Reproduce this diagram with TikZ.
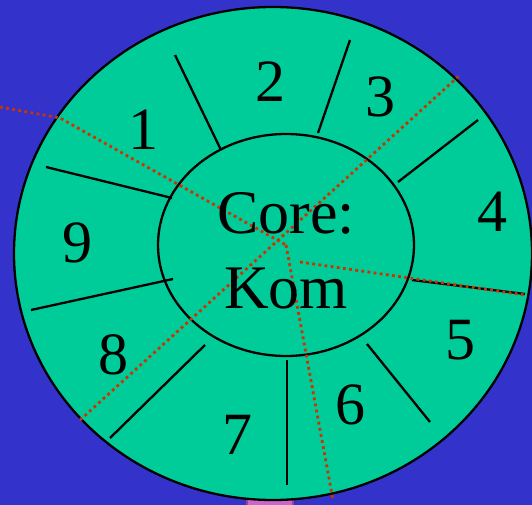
\documentclass[tikz,border=0pt]{standalone}
\usepackage{fontspec}
\setmainfont{Liberation Serif}
\begin{document}
\begin{tikzpicture}[x=1pt,y=-1pt,
  divider/.style={line width=2.3pt,black},
  redline/.style={line width=2.8pt,color={rgb,255:red,204;green,51;blue,0},dash pattern=on 2.8pt off 3.4pt},
  num/.style={font=\fontsize{60}{60}\selectfont,inner sep=0pt}]
\definecolor{bgblue}{RGB}{51,51,204}
\definecolor{seagreen}{RGB}{0,204,153}
\definecolor{pinkbox}{RGB}{204,102,204}
\fill[bgblue] (0,0) rectangle (532,505);
\useasboundingbox (0,0) rectangle (532,505);
\draw[pinkbox!70!black,fill=pinkbox,line width=1.5pt] (247,499) rectangle (293,508);
\draw[fill=seagreen,line width=2.3pt] (273,253.5) ellipse [x radius=259,y radius=246.5];
% dividers
\coordinate (a1) at (175,55);  \coordinate (b1) at (221,150);
\coordinate (a2) at (350,40);  \coordinate (b2) at (318,133);
\coordinate (a3) at (478,120); \coordinate (b3) at (398,182);
\coordinate (a4) at (525,294); \coordinate (b4) at (412,280);
\coordinate (a5) at (430,422); \coordinate (b5) at (367,344);
\coordinate (a6) at (287,485); \coordinate (b6) at (287,360);
\coordinate (a7) at (110,438); \coordinate (b7) at (205,345);
\coordinate (a8) at (31,310);  \coordinate (b8) at (173,279);
\coordinate (a9) at (46,167);  \coordinate (b9) at (172,198);
\foreach \i in {1,...,9} \draw[divider] (a\i) -- (b\i);
\draw[line width=2.3pt] (286,245) ellipse [x radius=128,y radius=111];
% red dotted lines
\coordinate (c) at (286,245);
\coordinate (r0) at (0,107);
\coordinate (r1) at (60,118);
\coordinate (r2) at (80,420);
\coordinate (r3) at (460,75);
\coordinate (r4) at (333,500);
\coordinate (r5) at (300,262);
\coordinate (r6) at (525,295);
\draw[redline] (r0) -- (r1) -- (c);
\draw[redline] (r2) -- (r3);
\draw[redline] (c) -- (r4);
\draw[redline] (r5) -- (r6);
% text
\node[font=\fontsize{62}{75}\selectfont,align=center,inner sep=0pt] (core) at (286,251) {Core:\\Kom};
\node[num] (n1) at (143,130) {1};
\node[num] (n2) at (270,82) {2};
\node[num] (n3) at (380,97) {3};
\node[num] (n4) at (492,212) {4};
\node[num] (n5) at (460,340) {5};
\node[num] (n6) at (350,405) {6};
\node[num] (n7) at (237,435) {7};
\node[num] (n8) at (113,355) {8};
\node[num] (n9) at (77,243) {9};
\end{tikzpicture}
\end{document}
